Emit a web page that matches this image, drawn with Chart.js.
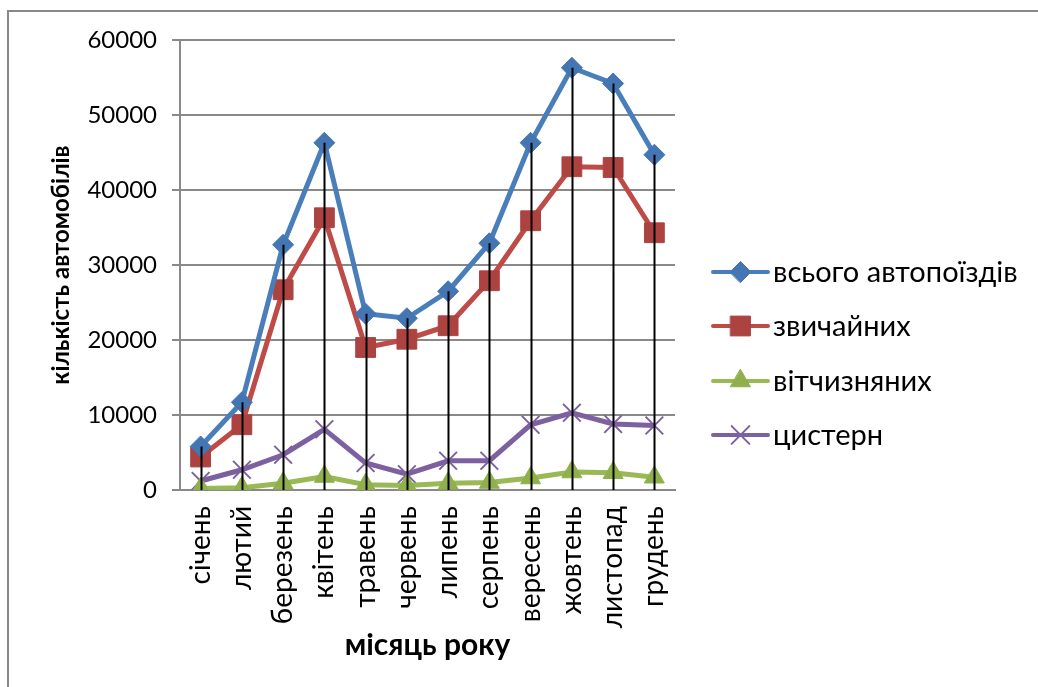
<!DOCTYPE html>
<html>
<head>
<meta charset="utf-8">
<script src="https://cdn.jsdelivr.net/npm/chart.js@4"></script>
<style>
  body { margin: 0; background: #fff; overflow: hidden; }
  #wrap { position: relative; width: 1038px; height: 687px; }
  #frame { position: absolute; left: 7px; top: 10px; width: 1100px; height: 800px; border: 2px solid #898989; }
  canvas { position: absolute; left: 0; top: 0; }
</style>
</head>
<body>
<div id="wrap">
  <div id="frame"></div>
  <canvas id="line-chart" width="1038" height="687"></canvas>
</div>
<script>
var months = ['січень', 'лютий', 'березень', 'квітень', 'травень', 'червень',
              'липень', 'серпень', 'вересень', 'жовтень', 'листопад', 'грудень'];
var totalTrucks = [5800, 11700, 32700, 46300, 23500, 22900, 26500, 32900, 46300, 56300, 54200, 44700];
var regular = [4400, 8700, 26700, 36300, 19000, 20100, 21900, 27900, 35900, 43100, 43000, 34300];
var domestic = [200, 300, 900, 1800, 700, 600, 900, 1000, 1600, 2400, 2300, 1700];
var tanks = [1200, 2700, 4700, 8100, 3600, 2100, 3900, 3900, 8700, 10300, 8800, 8600];
var yTicks = [0, 10000, 20000, 30000, 40000, 50000, 60000];

var FONT = 'Lato, "Noto Sans", sans-serif';

// Excel style drop lines: from the highest point of each month down to the axis
var dropLines = {
    id: 'dropLines',
    afterDatasetsDraw: function(chart) {
        var ctx = chart.ctx;
        var x = chart.scales.x, y = chart.scales.y;
        ctx.save();
        ctx.strokeStyle = '#000';
        ctx.lineWidth = 2;
        months.forEach(function(m, i) {
            var top = Math.max(totalTrucks[i], regular[i], domestic[i], tanks[i]);
            var px = Math.round(x.getPixelForValue(i)) + 0.5;
            ctx.beginPath();
            ctx.moveTo(px, y.getPixelForValue(top));
            ctx.lineTo(px, y.getPixelForValue(0));
            ctx.stroke();
        });
        ctx.restore();
    }
};

// legend with line + marker, like the spreadsheet one
var sideLegend = {
    id: 'sideLegend',
    afterDraw: function(chart) {
        var ctx = chart.ctx;
        var x0 = 713, x1 = 768, ys = [272, 326, 381, 435];
        ctx.save();
        chart.data.datasets.forEach(function(ds, i) {
            var yy = ys[i];
            ctx.strokeStyle = ds.borderColor;
            ctx.lineWidth = 4;
            ctx.lineCap = 'round';
            ctx.beginPath();
            ctx.moveTo(x0, yy);
            ctx.lineTo(x1, yy);
            ctx.stroke();
            ctx.fillStyle = ds.pointBackgroundColor;
            ctx.strokeStyle = ds.pointBorderColor;
            ctx.lineWidth = ds.pointBorderWidth;
            Chart.helpers.drawPoint(ctx, {pointStyle: ds.pointStyle, radius: ds.pointRadius, rotation: 0, borderWidth: ds.pointBorderWidth}, (x0 + x1) / 2, yy);
            ctx.fillStyle = '#000';
            ctx.font = '29px ' + FONT;
            ctx.textBaseline = 'middle';
            ctx.textAlign = 'left';
            ctx.fillText(ds.label, x1 + 5, yy + 1);
        });
        ctx.restore();
    }
};

var ctx = document.getElementById('line-chart').getContext('2d');
var lineChart = new Chart(ctx, {
    type: 'line',
    data: {
        labels: months,
        datasets: [
            {
                label: 'всього автопоїздів',
                data: totalTrucks,
                borderColor: '#4A7EBB',
                backgroundColor: '#4A7EBB',
                pointBackgroundColor: '#4476B4',
                pointBorderColor: '#4476B4',
                pointBorderWidth: 1,
                pointStyle: 'rectRot',
                pointRadius: 10.5,
                borderWidth: 5
            },
            {
                label: 'звичайних',
                data: regular,
                borderColor: '#BE4B48',
                backgroundColor: '#BE4B48',
                pointBackgroundColor: '#AC4341',
                pointBorderColor: '#AC4341',
                pointBorderWidth: 1,
                pointStyle: 'rect',
                pointRadius: 14,
                borderWidth: 5
            },
            {
                label: 'вітчизняних',
                data: domestic,
                borderColor: '#98B954',
                backgroundColor: '#98B954',
                pointBackgroundColor: '#8FB04C',
                pointBorderColor: '#8FB04C',
                pointBorderWidth: 1,
                pointStyle: 'triangle',
                pointRadius: 11.5,
                borderWidth: 5
            },
            {
                label: 'цистерн',
                data: tanks,
                borderColor: '#7D60A0',
                backgroundColor: '#7D60A0',
                pointBackgroundColor: '#7D60A0',
                pointBorderColor: '#7D60A0',
                pointBorderWidth: 2,
                pointStyle: 'crossRot',
                pointRadius: 12.5,
                borderWidth: 5
            }
        ]
    },
    options: {
        responsive: false,
        animation: false,
        layout: { padding: { left: 0, top: 40, right: 363, bottom: 0 } },
        scales: {
            x: {
                offset: true,
                afterFit: function(scale) { scale.height = 197; },
                grid: { display: false, drawTicks: false },
                border: { display: true, color: '#898989', width: 2 },
                ticks: {
                    minRotation: 90,
                    maxRotation: 90,
                    autoSkip: false,
                    padding: 16,
                    color: '#000',
                    font: { family: FONT, size: 28 }
                },
                title: {
                    display: true,
                    text: 'місяць року',
                    color: '#000',
                    padding: { top: 0, bottom: 24 },
                    font: { family: FONT, size: 30, weight: 'bold' }
                }
            },
            y: {
                min: 0,
                max: 60000,
                afterFit: function(scale) { scale.width = 180; },
                afterBuildTicks: function(scale) {
                    scale.ticks = yTicks.map(function(v) { return { value: v }; });
                },
                grid: { color: '#898989', lineWidth: 2, tickLength: 8 },
                border: { color: '#898989', width: 2 },
                ticks: {
                    padding: 15,
                    color: '#000',
                    font: { family: FONT, size: 24 },
                    callback: function(v) { return String(v); }
                },
                title: {
                    display: true,
                    text: 'кількість автомобілів',
                    color: '#000',
                    padding: { top: 47, bottom: 0 },
                    font: { family: FONT, size: 24, weight: 'bold' }
                }
            }
        },
        plugins: {
            legend: { display: false },
            tooltip: { enabled: false }
        }
    },
    plugins: [dropLines, sideLegend]
});
</script>
</body>
</html>
